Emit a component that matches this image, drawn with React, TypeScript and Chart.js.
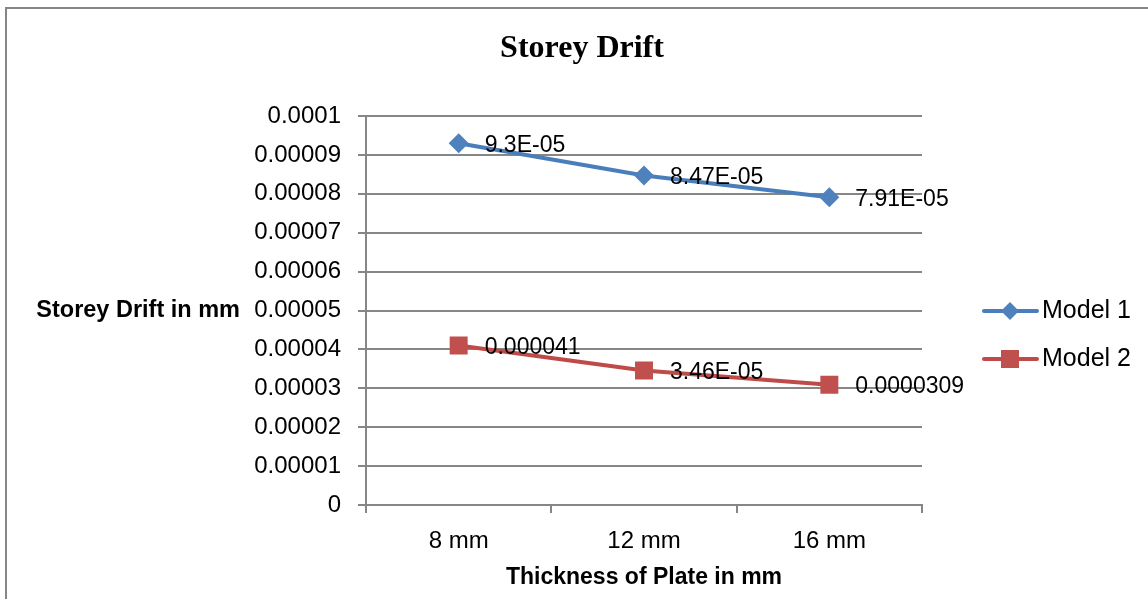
import React, { useEffect, useRef } from "react";
import { Chart, registerables } from "chart.js";

Chart.register(...registerables);

const chartTitle = "Storey Drift";
const yAxisTitle = "Storey Drift in mm";
const xAxisTitle = "Thickness of Plate in mm";
const categories = ["8 mm", "12 mm", "16 mm"];
const model1Values = [0.000093, 0.0000847, 0.0000791];
const model2Values = [0.000041, 0.0000346, 0.0000309];
const model1Labels = ["9.3E-05", "8.47E-05", "7.91E-05"];
const model2Labels = ["0.000041", "3.46E-05", "0.0000309"];
const seriesNames = ["Model 1", "Model 2"];
const yTickLabels = [
  "0",
  "0.00001",
  "0.00002",
  "0.00003",
  "0.00004",
  "0.00005",
  "0.00006",
  "0.00007",
  "0.00008",
  "0.00009",
  "0.0001",
];

const SANS = "'Liberation Sans', Arial, sans-serif";
const SERIF = "'Liberation Serif', 'Times New Roman', serif";
const GRAY = "#868686";

const decorPlugin = {
  id: "decor",
  beforeDraw(chart: any) {
    const ctx = chart.ctx;
    ctx.save();
    ctx.fillStyle = "#ffffff";
    ctx.fillRect(0, 0, chart.width, chart.height);
    ctx.strokeStyle = GRAY;
    ctx.lineWidth = 2;
    ctx.beginPath();
    ctx.moveTo(6, chart.height + 5);
    ctx.lineTo(6, 8);
    ctx.lineTo(chart.width + 5, 8);
    ctx.stroke();
    ctx.restore();
  },
  afterDraw(chart: any) {
    const ctx = chart.ctx;
    const area = chart.chartArea;
    ctx.save();
    // Title
    ctx.fillStyle = "#000";
    ctx.font = `bold 32px ${SERIF}`;
    ctx.textAlign = "center";
    ctx.textBaseline = "alphabetic";
    ctx.fillText(chartTitle, 582, 57);

    // Y axis title (horizontal)
    ctx.font = `bold 23.5px ${SANS}`;
    ctx.textAlign = "right";
    ctx.textBaseline = "middle";
    ctx.fillText(yAxisTitle, 240, (area.top + area.bottom) / 2);

    // X axis title
    ctx.font = `bold 23px ${SANS}`;
    ctx.textAlign = "center";
    ctx.fillText(xAxisTitle, (area.left + area.right) / 2, 578);

    // Data labels
    ctx.font = `23px ${SANS}`;
    ctx.textAlign = "left";
    const labelSets = [model1Labels, model2Labels];
    chart.data.datasets.forEach((ds: any, di: number) => {
      const meta = chart.getDatasetMeta(di);
      meta.data.forEach((pt: any, i: number) => {
        ctx.fillText(labelSets[di][i], pt.x + 26, pt.y + 2);
      });
    });

    // Legend
    const legendY = [311, 359];
    chart.data.datasets.forEach((ds: any, di: number) => {
      const y = legendY[di];
      ctx.strokeStyle = ds.borderColor;
      ctx.lineWidth = 4;
      ctx.lineCap = "round";
      ctx.beginPath();
      ctx.moveTo(984, y);
      ctx.lineTo(1037, y);
      ctx.stroke();
      ctx.fillStyle = ds.pointBackgroundColor;
      const cx = 1010;
      if (ds.pointStyle === "rectRot") {
        const r = 9;
        ctx.beginPath();
        ctx.moveTo(cx - r, y);
        ctx.lineTo(cx, y - r);
        ctx.lineTo(cx + r, y);
        ctx.lineTo(cx, y + r);
        ctx.closePath();
        ctx.fill();
      } else {
        ctx.fillRect(cx - 9, y - 9, 18, 18);
      }
      ctx.fillStyle = "#000";
      ctx.font = `25px ${SANS}`;
      ctx.textAlign = "left";
      ctx.textBaseline = "middle";
      ctx.fillText(seriesNames[di], 1042, y);
    });
    ctx.restore();
  },
};

export default function App() {
  const canvasRef = useRef<HTMLCanvasElement | null>(null);

  useEffect(() => {
    const canvas = canvasRef.current;
    if (!canvas) return;
    const chart = new Chart(canvas, {
      type: "line",
      data: {
        labels: categories,
        datasets: [
          {
            label: seriesNames[0],
            data: model1Values,
            borderColor: "#4A7EBB",
            backgroundColor: "#4F81BD",
            pointBackgroundColor: "#4F81BD",
            pointBorderColor: "#4F81BD",
            pointStyle: "rectRot",
            pointRadius: 10,
            pointBorderWidth: 0,
            borderWidth: 4,
            tension: 0,
          },
          {
            label: seriesNames[1],
            data: model2Values,
            borderColor: "#BE4B48",
            backgroundColor: "#C0504D",
            pointBackgroundColor: "#C0504D",
            pointBorderColor: "#C0504D",
            pointStyle: "rect",
            pointRadius: 12.7,
            pointBorderWidth: 0,
            borderWidth: 4,
            tension: 0,
          },
        ],
      },
      options: {
        responsive: false,
        animation: false,
        devicePixelRatio: 1,
        layout: { padding: { top: 116, left: 0, right: 226, bottom: 0 } },
        plugins: {
          legend: { display: false },
          title: { display: false },
          tooltip: { enabled: false },
        },
        scales: {
          x: {
            type: "category",
            offset: true,
            grid: {
              offset: true,
              drawOnChartArea: false,
              drawTicks: true,
              tickLength: 8,
              color: GRAY,
              lineWidth: 2,
            },
            border: { display: true, color: GRAY, width: 2 },
            ticks: {
              color: "#000",
              font: { family: SANS, size: 24 },
              padding: 14,
              maxRotation: 0,
            },
            afterFit(scale: any) {
              scale.height = 94;
            },
          },
          y: {
            min: 0,
            max: 0.0001,
            grid: {
              color: GRAY,
              lineWidth: 2,
              drawTicks: true,
              tickLength: 8,
            },
            border: { display: true, color: GRAY, width: 2 },
            ticks: {
              stepSize: 0.00001,
              color: "#000",
              font: { family: SANS, size: 24 },
              padding: 17,
              callback: (_v: any, i: number) => yTickLabels[i],
            },
            afterFit(scale: any) {
              scale.width = 366;
            },
          },
        },
      },
      plugins: [decorPlugin],
    });
    return () => chart.destroy();
  }, []);

  return (
    <div style={{ position: "fixed", left: 0, top: 0, width: 1148, height: 599, background: "#fff" }}>
      <canvas ref={canvasRef} width={1148} height={599} style={{ display: "block", width: 1148, height: 599 }} />
    </div>
  );
}
